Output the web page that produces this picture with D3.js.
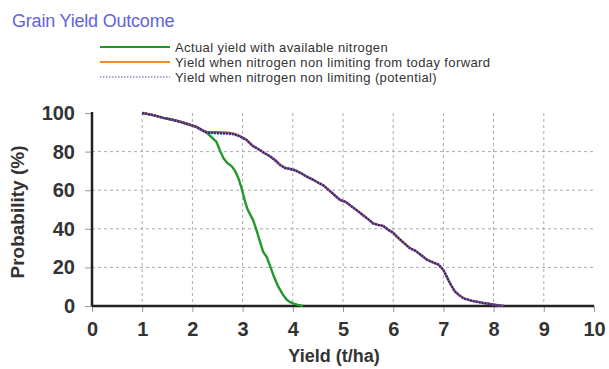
<!DOCTYPE html>
<html><head><meta charset="utf-8">
<script src="https://cdn.jsdelivr.net/npm/d3@7"></script>
<style>body{margin:0;background:#fff}svg{display:block}</style>
</head><body>
<script>
const titleText = "Grain Yield Outcome";
const seriesNames = ["Actual yield with available nitrogen","Yield when nitrogen non limiting from today forward","Yield when nitrogen non limiting (potential)"];
const xTicks = [0,1,2,3,4,5,6,7,8,9,10];
const yTicks = [0,20,40,60,80,100];
const xLabel = "Yield (t/ha)";
const yLabel = "Probability (%)";

const actualYield = [1.0,1.2,1.42,1.6,1.75,1.9,2.08,2.2,2.3,2.4,2.48,2.55,2.62,2.7,2.78,2.85,2.92,2.98,3.05,3.1,3.15,3.21,3.28,3.35,3.41,3.48,3.55,3.62,3.71,3.8,3.88,3.95,4.02,4.1,4.2];
const actualProb  = [100,99,97.5,96.5,95.5,94.3,92.8,91,89.5,87,85,80.5,76.5,74,72.5,70,66,61,54,50,47.5,44.5,39,33,28,25.5,20.5,15.5,10,6,3.2,2,1.2,0.6,0];

const todayYield = [1.0,1.2,1.42,1.6,1.75,1.9,2.08,2.2,2.3,2.5,2.7,2.82,2.95,3.08,3.2,3.3,3.45,3.55,3.65,3.75,3.85,3.95,4.05,4.15,4.28,4.4,4.5,4.61,4.72,4.85,4.94,5.05,5.15,5.27,5.4,5.5,5.6,5.7,5.8,5.9,6.0,6.07,6.2,6.33,6.45,6.55,6.67,6.8,6.9,7.0,7.07,7.13,7.23,7.32,7.4,7.55,7.66,7.8,7.93,8.05,8.2];
const todayProb  = [100,99,97.5,96.5,95.5,94.3,92.8,91,90,90,89.8,89.3,88,86,83,81.5,79,77.5,75.5,73,71.5,71,70.3,69,67,65.5,64,62.5,60,57,55,54,52,49.7,47,45,42.8,42,41.5,39.5,38,36,33,30,28.5,26.5,24,22.5,21.5,18.7,15,11.8,7.5,5.5,4,2.8,2.3,1.6,1.1,0.6,0];

const potentialYield = [1.0,1.2,1.42,1.6,1.75,1.9,2.08,2.2,2.3,2.5,2.7,2.82,2.95,3.08,3.2,3.3,3.45,3.55,3.65,3.75,3.85,3.95,4.05,4.15,4.28,4.4,4.5,4.61,4.72,4.85,4.94,5.05,5.15,5.27,5.4,5.5,5.6,5.7,5.8,5.9,6.0,6.07,6.2,6.33,6.45,6.55,6.67,6.8,6.9,7.0,7.07,7.13,7.23,7.32,7.4,7.55,7.66,7.8,7.93,8.05,8.2];
const potentialProb  = [100,99,97.5,96.5,95.5,94.3,92.8,91,89.8,89.5,89.3,89,87.8,86,83,81.5,79,77.5,75.5,73,71.5,71,70.3,69,67,65.5,64,62.5,60,57,55,54,52,49.7,47,45,42.8,42,41.5,39.5,38,36,33,30,28.5,26.5,24,22.5,21.5,18.7,15,11.8,7.5,5.5,4,2.8,2.2,1.5,1,0.5,0];

const W = 609, H = 369;
const svg = d3.select("body").append("svg").attr("width", W).attr("height", H);
const x = d3.scaleLinear().domain([0,10]).range([92,594]);
const y = d3.scaleLinear().domain([0,100]).range([306,113]);
const font = "Arial, 'Liberation Sans', sans-serif";

// title
svg.append("text").attr("x", 12).attr("y", 27).attr("fill", "#6262da")
  .attr("font-family", font).attr("font-size", 18).attr("letter-spacing", -0.2).text(titleText);

// legend
const legColors = ["#1e9a1e","#f08a2a","#8a8ae0"];
const legY = [47, 62, 77];
seriesNames.forEach((n,i)=>{
  const l = svg.append("line").attr("x1",100).attr("x2",170).attr("y1",legY[i]).attr("y2",legY[i])
    .attr("stroke", legColors[i]).attr("stroke-width", 2);
  if (i===2) l.attr("stroke-dasharray","1.5,1.5").attr("stroke-width",1.5);
  svg.append("text").attr("x",175).attr("y",legY[i]+4.5).attr("fill","#333")
    .attr("font-family",font).attr("font-size",13).attr("letter-spacing",0.4).text(n);
});

// grid
const g = svg.append("g");
g.selectAll(".vg").data(xTicks.filter(t=>t>0 && t<10)).enter().append("line")
  .attr("x1",d=>x(d)).attr("x2",d=>x(d)).attr("y1",y(100)).attr("y2",y(0))
  .attr("stroke","#aaa").attr("stroke-width",1).attr("stroke-dasharray","3,3");
g.selectAll(".hg").data(yTicks.filter(t=>t>0 && t<100)).enter().append("line")
  .attr("x1",x(0)).attr("x2",x(10)).attr("y1",d=>y(d)).attr("y2",d=>y(d))
  .attr("stroke","#aaa").attr("stroke-width",1).attr("stroke-dasharray","3,3");

// axes
const xAxis = svg.append("g").attr("transform",`translate(0,${y(0)})`)
  .call(d3.axisBottom(x).tickValues(xTicks).tickSize(6).tickPadding(8).tickFormat(d3.format("d")));
const yAxis = svg.append("g").attr("transform",`translate(${x(0)},0)`)
  .call(d3.axisLeft(y).tickValues(yTicks).tickSize(7).tickPadding(10).tickFormat(d3.format("d")));
[xAxis,yAxis].forEach(a=>{
  a.select(".domain").remove();
  a.selectAll(".tick line").attr("stroke","#999");
  a.selectAll(".tick text").attr("fill","#333").attr("font-family",font)
    .attr("font-size",20).attr("font-weight","bold");
});
xAxis.selectAll(".tick text").attr("dy","0.78em");
svg.append("line").attr("x1",x(0)).attr("x2",x(10)).attr("y1",y(0)).attr("y2",y(0))
  .attr("stroke","#222").attr("stroke-width",2.5);
svg.append("line").attr("x1",x(0)).attr("x2",x(0)).attr("y1",y(100)-1).attr("y2",y(0))
  .attr("stroke","#222").attr("stroke-width",2.5);

// axis titles
svg.append("text").attr("x",334).attr("y",362).attr("text-anchor","middle")
  .attr("fill","#333").attr("font-family",font).attr("font-size",18).attr("font-weight","bold").text(xLabel);
svg.append("text").attr("transform","translate(24,212) rotate(-90)").attr("text-anchor","middle")
  .attr("fill","#333").attr("font-family",font).attr("font-size",19).attr("font-weight","bold").text(yLabel);

// lines
const line = d3.line().x(d=>x(d[0])).y(d=>y(d[1]));
const zip = (a,b)=>a.map((v,i)=>[v,b[i]]);
svg.append("path").datum(zip(actualYield,actualProb)).attr("d",line)
  .attr("fill","none").attr("stroke","#22992a").attr("stroke-width",2.4);
svg.append("path").datum(zip(todayYield,todayProb)).attr("d",line)
  .attr("fill","none").attr("stroke","#b8602a").attr("stroke-width",2.4);
svg.append("path").datum(zip(potentialYield,potentialProb)).attr("d",line)
  .attr("fill","none").attr("stroke","#2a2aa8").attr("stroke-width",2.4).attr("stroke-dasharray","2,1");
</script>
</body></html>
